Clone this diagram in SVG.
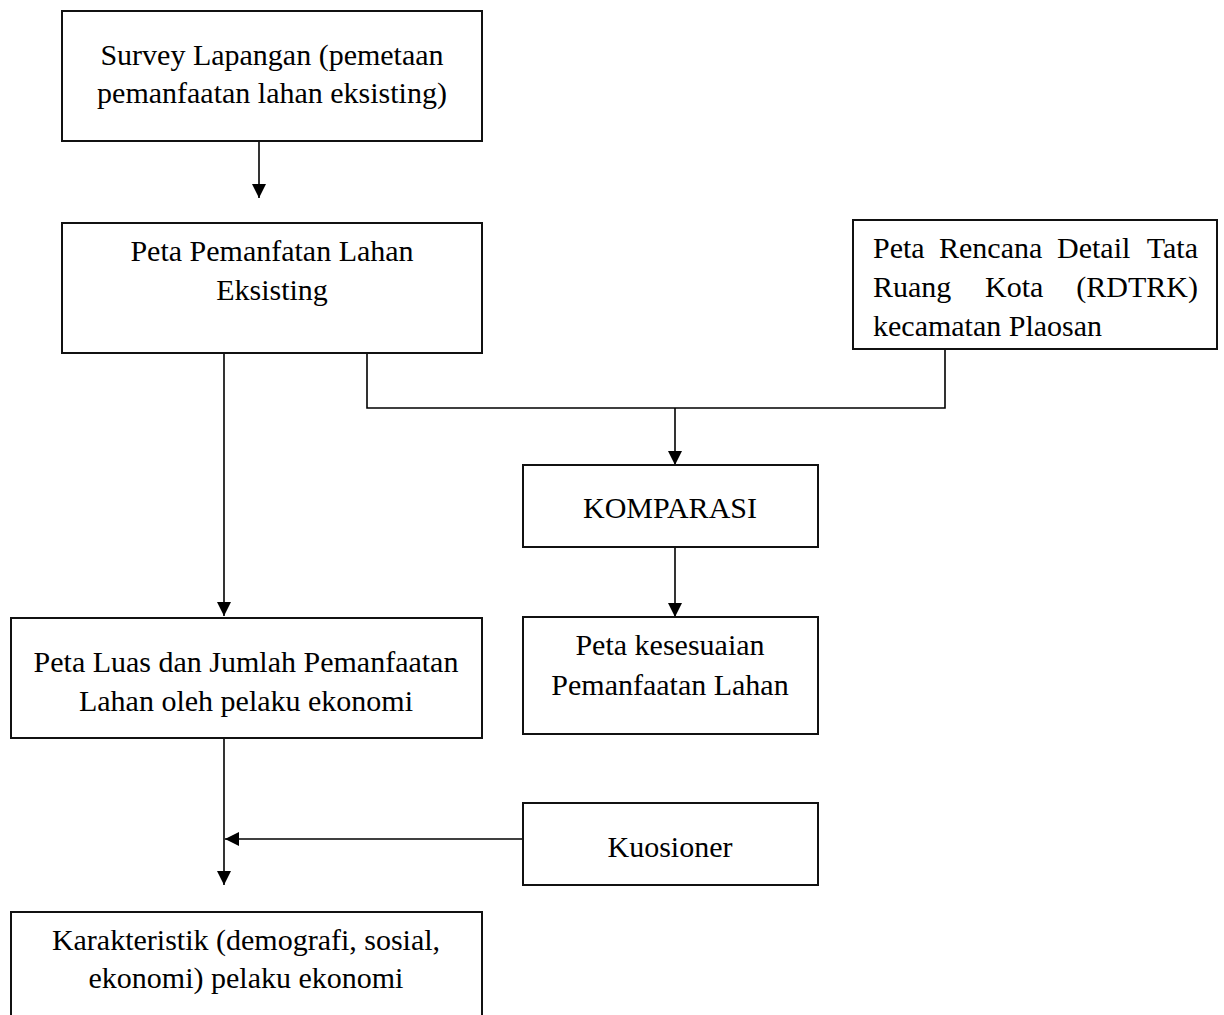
<svg xmlns="http://www.w3.org/2000/svg" width="1224" height="1015" viewBox="0 0 1224 1015">
<style>
.box{fill:#fff;stroke:#111;stroke-width:2}
.t{font-family:"Liberation Serif","Times New Roman",serif;font-size:30px;fill:#000}
.c{text-anchor:middle}
.e{text-anchor:end}
.ln{fill:none;stroke:#000;stroke-width:1.6}
</style>
<defs>
<marker id="ah" viewBox="0 0 14 14" refX="14" refY="7" markerWidth="14" markerHeight="14" markerUnits="userSpaceOnUse" orient="auto">
<path d="M0,0 L14,7 L0,14 z" fill="#000"/>
</marker>
</defs>
<rect width="1224" height="1015" fill="#fff"/>
<g id="connectors">
<line class="ln" x1="259" y1="141" x2="259" y2="198" marker-end="url(#ah)"/>
<line class="ln" x1="224" y1="353" x2="224" y2="616" marker-end="url(#ah)"/>
<polyline class="ln" points="367,353 367,408 945,408 945,349"/>
<line class="ln" x1="675" y1="408" x2="675" y2="465" marker-end="url(#ah)"/>
<line class="ln" x1="675" y1="547" x2="675" y2="617" marker-end="url(#ah)"/>
<line class="ln" x1="224" y1="738" x2="224" y2="885" marker-end="url(#ah)"/>
<line class="ln" x1="523" y1="839" x2="225" y2="839" marker-end="url(#ah)"/>
</g>
<g id="survey">
<rect class="box" x="62" y="11" width="420" height="130"/>
<text class="t c" x="272" y="65">Survey Lapangan (pemetaan</text>
<text class="t c" x="272" y="103">pemanfaatan lahan eksisting)</text>
</g>
<g id="peta-eksisting">
<rect class="box" x="62" y="223" width="420" height="130"/>
<text class="t c" x="272" y="261">Peta Pemanfatan Lahan</text>
<text class="t c" x="272" y="300">Eksisting</text>
</g>
<g id="rdtrk">
<rect class="box" x="853" y="220" width="364" height="129"/>
<text class="t" y="258"><tspan x="873">Peta</tspan><tspan x="939">Rencana</tspan><tspan x="1057">Detail</tspan></text>
<text class="t e" x="1198" y="258">Tata</text>
<text class="t" y="297"><tspan x="873">Ruang</tspan><tspan x="985">Kota</tspan></text>
<text class="t e" x="1198" y="297">(RDTRK)</text>
<text class="t" x="873" y="336">kecamatan Plaosan</text>
</g>
<g id="komparasi">
<rect class="box" x="523" y="465" width="295" height="82"/>
<text class="t c" x="670" y="518">KOMPARASI</text>
</g>
<g id="peta-kesesuaian">
<rect class="box" x="523" y="617" width="295" height="117"/>
<text class="t c" x="670" y="655">Peta kesesuaian</text>
<text class="t c" x="670" y="695">Pemanfaatan Lahan</text>
</g>
<g id="peta-luas">
<rect class="box" x="11" y="618" width="471" height="120"/>
<text class="t c" x="246" y="672">Peta Luas dan Jumlah Pemanfaatan</text>
<text class="t c" x="246" y="711">Lahan oleh pelaku ekonomi</text>
</g>
<g id="kuosioner">
<rect class="box" x="523" y="803" width="295" height="82"/>
<text class="t c" x="670" y="857">Kuosioner</text>
</g>
<g id="karakteristik">
<rect class="box" x="11" y="912" width="471" height="120"/>
<text class="t c" x="246" y="950">Karakteristik (demografi, sosial,</text>
<text class="t c" x="246" y="988">ekonomi) pelaku ekonomi</text>
</g>
</svg>
